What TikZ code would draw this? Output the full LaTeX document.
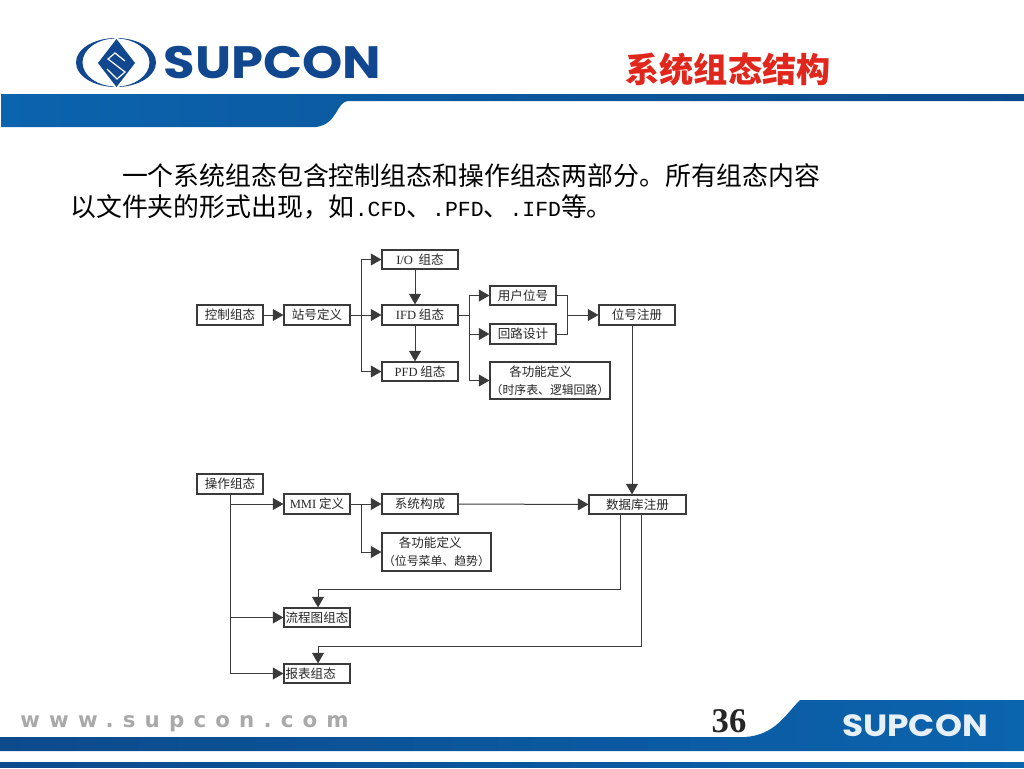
\documentclass[tikz,border=0pt]{standalone}
\usepackage{fontspec}
\setmainfont{Noto Sans CJK SC}
\newfontfamily\latinserif{Liberation Serif}
\newfontfamily\latinmono{Liberation Mono}
\newfontfamily\logofont{Poppins}
\newfontfamily\webfont[LetterSpace=43]{DejaVu Sans}
\usetikzlibrary{arrows.meta}
\definecolor{supconblue}{HTML}{0B64AE}
\definecolor{supcondark}{HTML}{0C4A8C}
\definecolor{logoblue}{HTML}{10478F}
\definecolor{titlered}{HTML}{E1261C}
\definecolor{linegray}{HTML}{3A3A3A}
\definecolor{webgray}{HTML}{A9A9A9}
\newlength{\pxunit}
\setlength{\pxunit}{0.75pt}
\tikzset{
  cfgbox/.style={draw=linegray, line width=0.85pt, fill=white, inner sep=0pt, align=center,
    text=black!85, font=\fontsize{9.4pt}{13.5pt}\selectfont},
  flowline/.style={draw=linegray, line width=0.75pt},
  flowarrow/.style={flowline, -{Triangle[length=8pt,width=9pt]}}
}
\newcommand{\cfgnode}[6]{%kwargs name, x0, y0, x1, y1, text
  \node[cfgbox, minimum width={(#4-#2)*\pxunit}, minimum height={(#5-#3)*\pxunit}]
  (#1) at ({(#2+#4)/2},{(#3+#5)/2}) {#6};
}

\begin{document}
\begin{tikzpicture}[x=0.75pt,y=-0.75pt]
    \useasboundingbox (0,0) rectangle (1024,768);
    %header band
    \shade[left color=supconblue, right color=supcondark]
    (1,94) -- (1024,94) -- (1024,101) -- (348,101)
    .. controls (336,102) and (338,124) .. (316,127) -- (1,127) -- cycle;
    %footer bands
    \shade[left color=supcondark, right color=supconblue]
    (0,737) -- (745,737) .. controls (775,735) and (785,715) .. (800,700)
    -- (1024,700) -- (1024,751) -- (0,751) -- cycle;
    \shade[left color=supcondark, right color=supconblue] (0,762) rectangle (1024,767);
    %logo on top
    \fill[logoblue, even odd rule] (116,62.5) ellipse (40 and 24.5) (116,62.5) ellipse (33.5 and 24);
    \fill[white] (116.5,36) -- (138,63) -- (116.5,90) -- (95,63) -- cycle;
    \fill[logoblue] (116.5,39) -- (135,63) -- (116.5,87) -- (98,63) -- cycle;
    \draw[white, line width=0.9pt] (125,61) -- (115,53) -- (108,59) -- (125,72) -- (117,79) -- (107,69);
    \node[text=logoblue, font=\fontsize{34pt}{34pt}\logofont\bfseries, inner sep=0pt, xscale=1.13, transform shape]
    (logo) at (272.5,63) {SUPCON};
    %title
    \node[text=titlered, font=\fontsize{25.6pt}{30pt}\selectfont\bfseries, inner sep=0pt] (title) at (728,69) {系统组态结构};
    %intro text
    \node[anchor=north west, align=left, inner sep=0pt, text=black, font=\fontsize{19.4pt}{23.3pt}\selectfont]
    (intro) at (70,163.5) {\hspace*{2em}一个系统组态包含控制组态和操作组态两部分。所有组态内容\\
      以文件夹的形式出现，如{\latinmono\fontsize{16.1pt}{23.3pt}\selectfont .CFD}、{\latinmono\fontsize{16.1pt}{23.3pt}\selectfont .PFD}、{\latinmono\fontsize{16.1pt}{23.3pt}\selectfont .IFD}等。};
    %control row
    \cfgnode{ctrl}{197}{305}{263}{325}{控制组态}
    \cfgnode{station}{284}{305}{350}{325}{站号定义}
    \cfgnode{io}{382}{250}{458}{269}{{\latinserif I/O}\ \ 组态}
    \cfgnode{ifd}{382}{305}{458}{325}{{\latinserif IFD} 组态}
    \cfgnode{pfd}{382}{362}{458}{381}{{\latinserif PFD} 组态}
    \cfgnode{tag}{490}{286}{556}{305}{用户位号}
    \cfgnode{loop}{490}{324}{556}{344}{回路设计}
    \cfgnode{func}{490}{362}{610}{399}{各功能定义\hspace*{1.5em}\\{\fontsize{8.9pt}{13.5pt}\selectfont （时序表、逻辑回路）}}
    \cfgnode{tagreg}{599}{305}{675}{325}{位号注册}
    %operation rows
    \cfgnode{oper}{197}{474}{263}{494}{操作组态}
    \cfgnode{mmi}{284}{494}{350}{514}{{\latinserif MMI} 定义}
    \cfgnode{sys}{382}{494}{458}{514}{系统构成}
    \cfgnode{dbreg}{589}{495}{686}{514}{数据库注册}
    \cfgnode{opfunc}{382}{533}{491}{571}{各功能定义\hspace*{1em}\\{\fontsize{8.9pt}{13.5pt}\selectfont （位号菜单、趋势）}}
    \cfgnode{graph}{284}{608}{350}{627}{流程图组态}
    \cfgnode{report}{284}{664}{350}{683}{报表组态\hspace*{1em}}
    %branch points
    \coordinate (ctrlbus) at (361,315);
    \coordinate (ifdbus) at (469,315);
    \coordinate (tagbus) at (567,315);
    \coordinate (mmibus) at (361,504);
    \coordinate (ioline) at (415,300);
    \coordinate (regline) at (632,400);
    \coordinate (backa) at (318,589);
    \coordinate (backb) at (318,646);
    \coordinate (downa) at (620,550);
    \coordinate (downb) at (641,550);
    %control connectors
    \draw[flowarrow] (ctrl) -- (station);
    \draw[flowarrow] (station) -- (ifd);
    \draw[flowarrow] (ctrlbus) |- (io);
    \draw[flowarrow] (ctrlbus) |- (pfd);
    \draw[flowarrow] (io.south -| ioline) -- (ifd.north -| ioline);
    \draw[flowarrow] (ifd.south -| ioline) -- (pfd.north -| ioline);
    \draw[flowline] (ifd) -- (ifdbus);
    \draw[flowarrow] (ifdbus) |- (tag);
    \draw[flowarrow] (ifdbus) |- (loop);
    \draw[flowarrow] (ifdbus) |- (func);
    \draw[flowline] (tag) -| (tagbus);
    \draw[flowline] (loop) -| (tagbus);
    \draw[flowarrow] (tagbus) -- (tagreg);
    \draw[flowarrow] (tagreg.south -| regline) -- (dbreg.north -| regline);
    %operation connectors
    \draw[flowarrow] (oper.south) |- (mmi);
    \draw[flowarrow] (oper.south) |- (graph);
    \draw[flowarrow] (oper.south) |- (report);
    \draw[flowarrow] (mmi) -- (sys);
    \draw[flowarrow] (mmibus) |- (opfunc);
    \draw[flowarrow] (sys) -- (dbreg);
    \draw[flowarrow] (dbreg.south -| downa) |- (backa) -- (graph.north -| backa);
    \draw[flowarrow] (dbreg.south -| downb) |- (backb) -- (report.north -| backb);
    %footer text
    \node[anchor=west, text=webgray, font=\fontsize{16pt}{18pt}\webfont\bfseries, inner sep=0pt] (web) at (20,724) {www.supcon.com};
    \node[text=black!85, font=\fontsize{26pt}{28pt}\latinserif\bfseries, inner sep=0pt] (page) at (729,721) {36};
    \node[text=white!90!supconblue, font=\fontsize{23pt}{24pt}\logofont\bfseries, inner sep=0pt, xscale=1.12, transform shape] (footlogo) at (915,726) {SUPCON};
  \end{tikzpicture}
\end{document}
